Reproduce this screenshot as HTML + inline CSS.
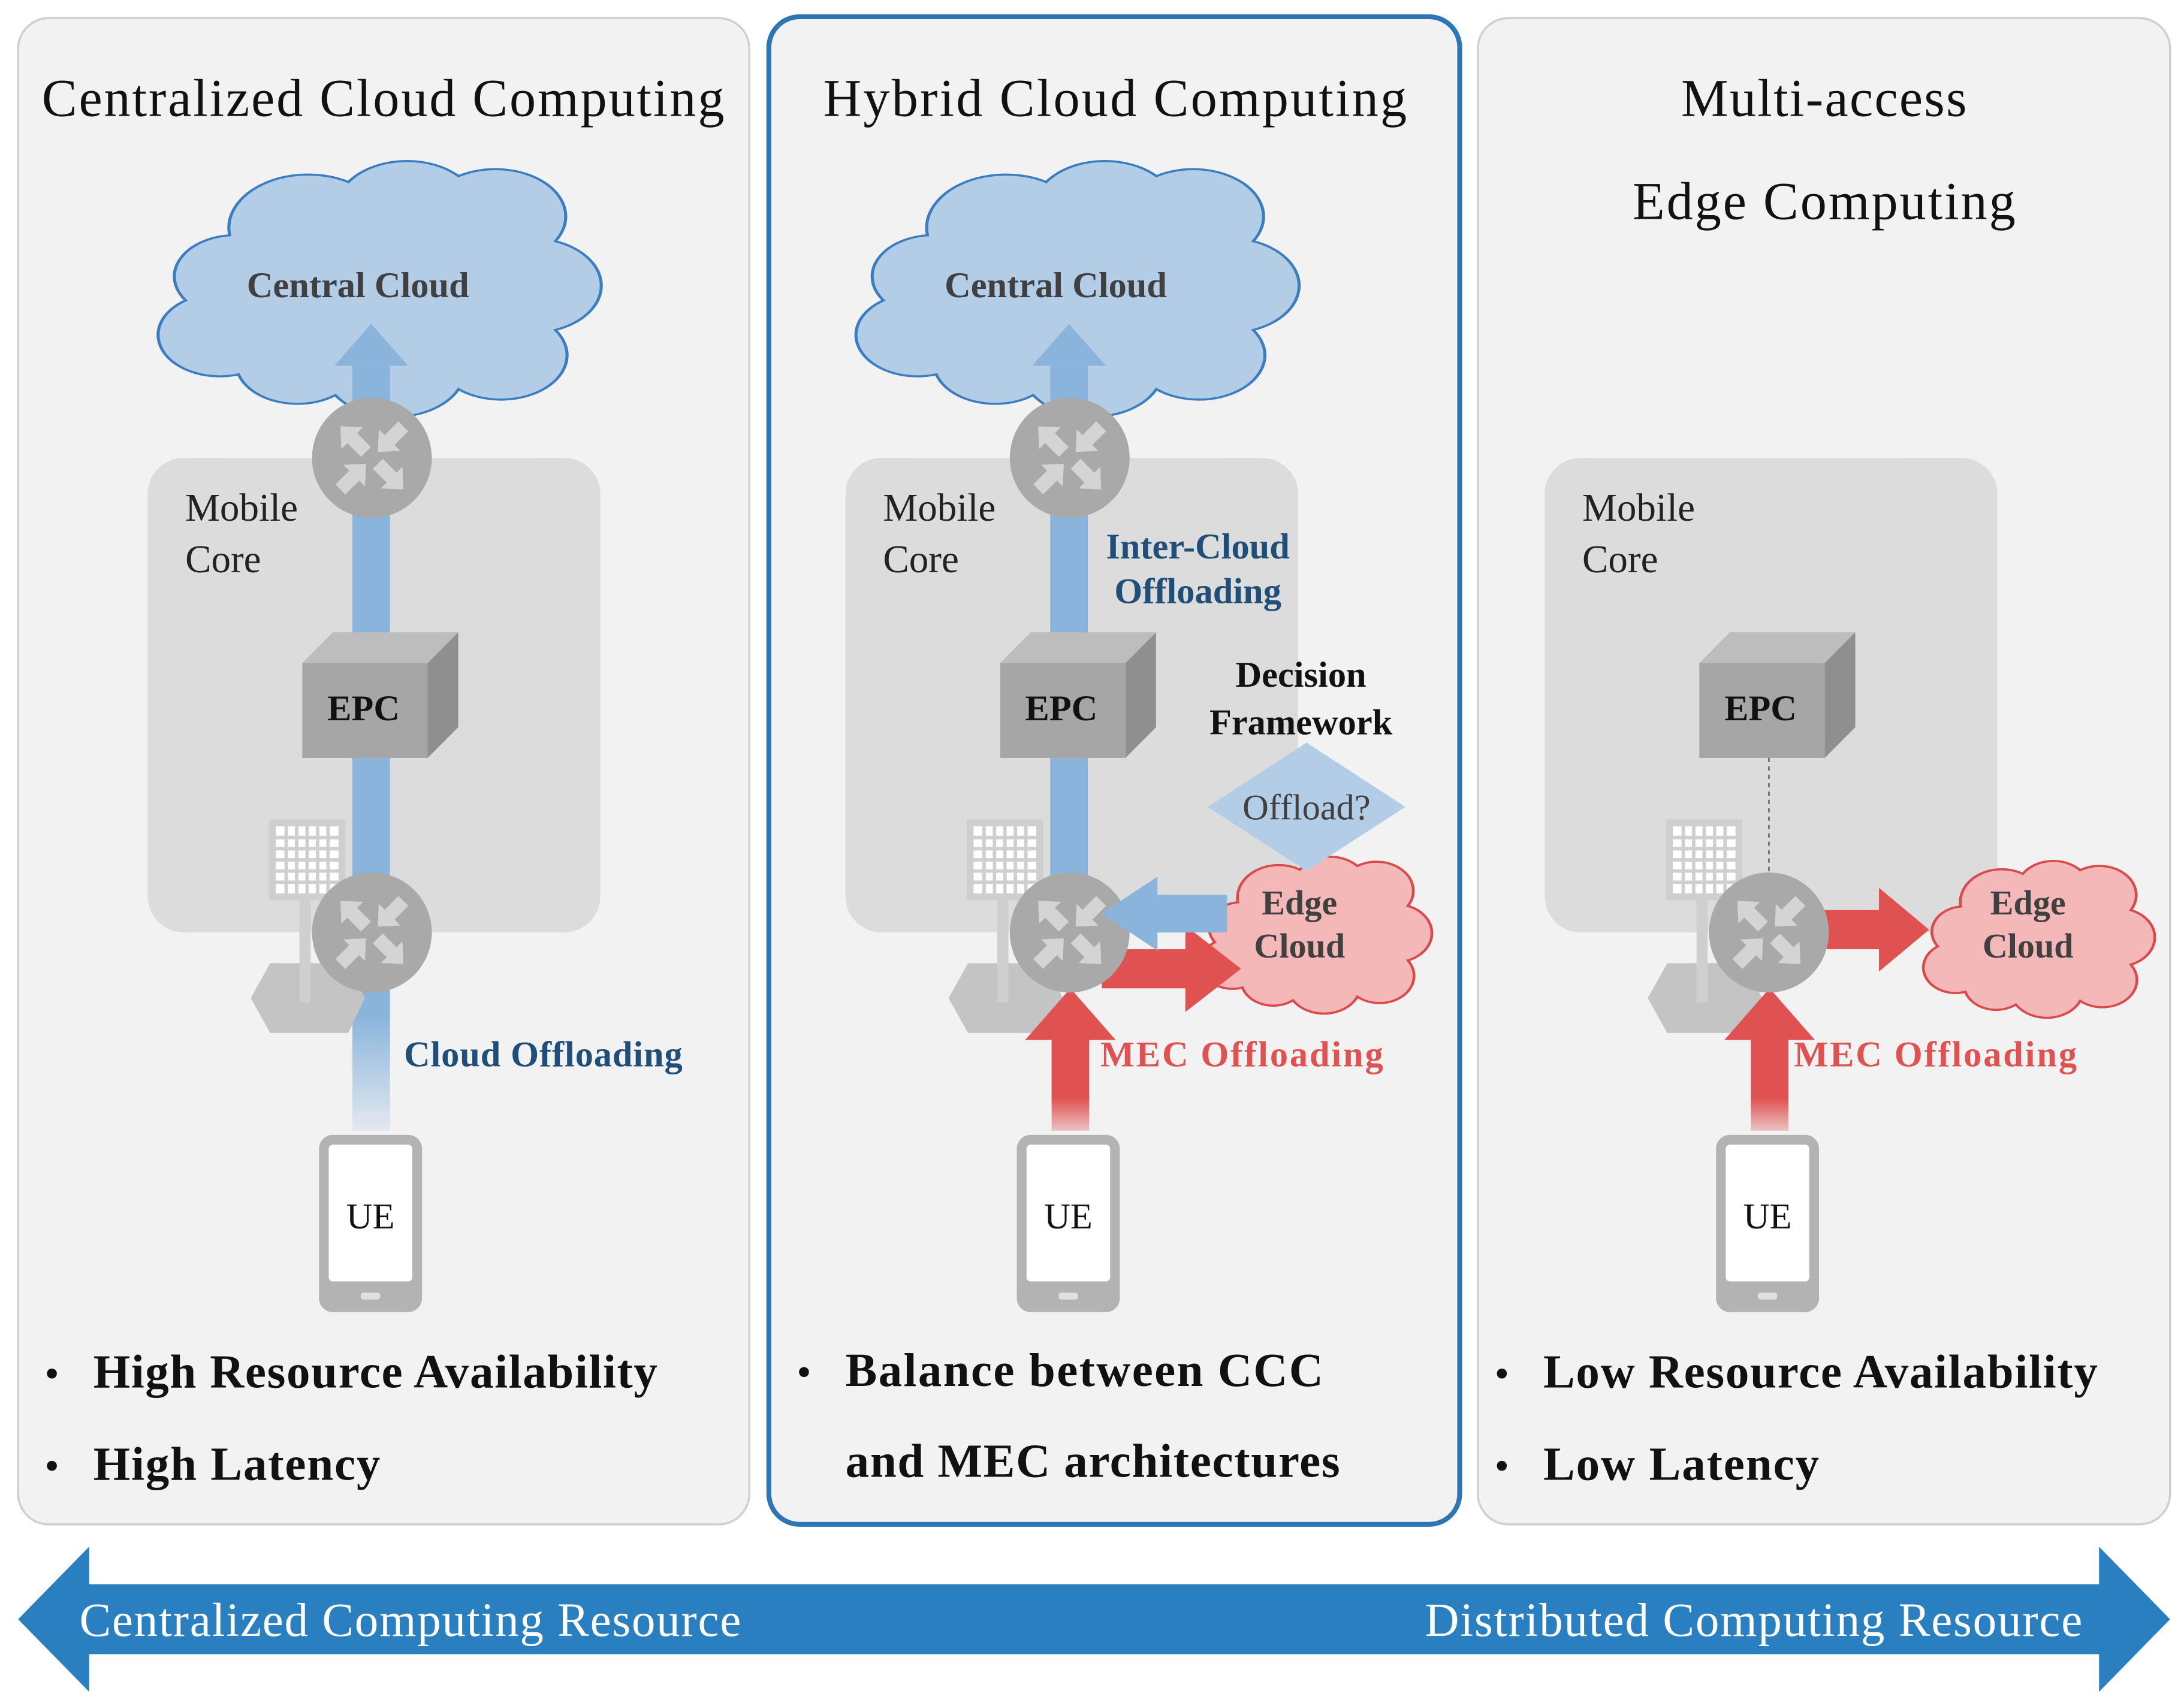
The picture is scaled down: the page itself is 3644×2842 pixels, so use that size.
<!DOCTYPE html>
<html><head><meta charset="utf-8"><style>html,body{margin:0;padding:0;background:#fff}svg{display:block}</style></head>
<body>
<svg width="3644" height="2842" viewBox="0 0 1568 1220" preserveAspectRatio="none" xmlns="http://www.w3.org/2000/svg" font-family="'Liberation Serif',serif">
<defs>
<linearGradient id="fadeB" x1="0" y1="0" x2="0" y2="1"><stop offset="0" stop-color="#8ab4dc"/><stop offset="0.85" stop-color="#8ab4dc"/><stop offset="1" stop-color="#8ab4dc" stop-opacity="0.15"/></linearGradient>
<linearGradient id="fadeR" x1="0" y1="1" x2="0" y2="0"><stop offset="0" stop-color="#e05252" stop-opacity="0.3"/><stop offset="0.35" stop-color="#e05252"/><stop offset="1" stop-color="#e05252"/></linearGradient>
<path id="cloudp" d="M 20 85 A 14 14 0 0 1 8 60 A 14 14 0 0 1 18 38 A 18 18 0 0 1 45 20 A 16 16 0 0 1 70 18 A 16 16 0 0 1 92 40 A 16 16 0 0 1 92 70 A 15 15 0 0 1 70 90 A 16 16 0 0 1 42 92 A 14 14 0 0 1 20 85 Z"/>
<g id="router">
 <circle r="43" fill="#a9a9a9"/>
 <g fill="#d4d4d4">
  <polygon transform="rotate(225)" points="6,-5 20,-5 20,-11 32,0 20,11 20,5 6,5"/>
  <polygon transform="rotate(45)" points="6,-5 20,-5 20,-11 32,0 20,11 20,5 6,5"/>
  <polygon transform="rotate(-45)" points="32,-5 18,-5 18,-11 6,0 18,11 18,5 32,5"/>
  <polygon transform="rotate(135)" points="32,-5 18,-5 18,-11 6,0 18,11 18,5 32,5"/>
 </g>
</g>
<g id="epc">
 <polygon points="217,475 239,453 329,453 307,475" fill="#bdbdbd"/>
 <polygon points="307,475 329,453 329,521 307,543" fill="#8f8f8f"/>
 <rect x="217" y="475" width="90" height="68" fill="#a6a6a6"/>
 <text x="261" y="516" font-size="26" font-weight="bold" text-anchor="middle" fill="#111">EPC</text>
</g>
<g id="bs">
 <polygon points="194,690 250,690 262,715 250,740 194,740 180,715" fill="#c4c4c4"/>
 <rect x="215" y="640" width="8" height="78" fill="#cfcfcf"/>
 <rect x="193" y="587" width="55" height="58" fill="#cfcfcf"/>
 <rect x="198" y="592" width="45" height="48" fill="#fff"/>
 <g stroke="#cfcfcf" stroke-width="2.5">
  <line x1="205.5" y1="590" x2="205.5" y2="642"/><line x1="213" y1="590" x2="213" y2="642"/><line x1="220.5" y1="590" x2="220.5" y2="642"/><line x1="228" y1="590" x2="228" y2="642"/><line x1="235.5" y1="590" x2="235.5" y2="642"/>
  <line x1="196" y1="600" x2="245" y2="600" /><line x1="196" y1="608" x2="245" y2="608"/><line x1="196" y1="616" x2="245" y2="616"/><line x1="196" y1="624" x2="245" y2="624"/><line x1="196" y1="632" x2="245" y2="632"/>
 </g>
</g>
<g id="ue">
 <rect x="229" y="813" width="74" height="127" rx="10" fill="#b3b3b3"/>
 <rect x="236" y="820" width="60" height="98" rx="3" fill="#fff"/>
 <rect x="259" y="926" width="14" height="5" rx="2" fill="#e0e0e0"/>
 <text x="266" y="880" font-size="26" text-anchor="middle" fill="#111">UE</text>
</g>
<g id="core">
 <rect x="106" y="328" width="325" height="340" rx="26" fill="#dcdcdc"/>
 <text x="133" y="373" font-size="28" fill="#222">Mobile</text>
 <text x="133" y="410" font-size="28" fill="#222">Core</text>
</g>
<g id="ccloud">
 <use href="#cloudp" transform="translate(108,88) scale(3.16,2.12)" fill="#b4cde6" stroke="#3a7dc0" stroke-width="0.7"/>
 <text x="257" y="213" font-size="26" font-weight="bold" text-anchor="middle" fill="#404040">Central Cloud</text>
</g>
<g id="ecloud">
 <use href="#cloudp" transform="scale(1.65,1.3)" fill="#f5b8b8" stroke="#d94a4a" stroke-width="1.2"/>
</g>
</defs>

<rect x="13" y="13" width="525" height="1079" rx="22" fill="#f2f2f2" stroke="#cfcfcf" stroke-width="1.5"/>
<rect x="552" y="12" width="496" height="1080" rx="22" fill="#f2f2f2" stroke="#2e75b6" stroke-width="3.5"/>
<rect x="1061" y="13" width="497" height="1079" rx="22" fill="#f2f2f2" stroke="#cfcfcf" stroke-width="1.5"/>

<text x="30" y="83" font-size="38" fill="#111" textLength="490">Centralized Cloud Computing</text>
<text x="591" y="83" font-size="38" fill="#111" textLength="419">Hybrid Cloud Computing</text>
<text x="1207" y="83" font-size="38" fill="#111" textLength="205">Multi-access</text>
<text x="1172" y="157" font-size="38" fill="#111" textLength="275">Edge Computing</text>

<use href="#core"/>
<use href="#ccloud"/>
<rect x="253" y="262" width="27" height="548" fill="url(#fadeB)"/>
<polygon points="240,262 266.5,232 293,262" fill="#8ab4dc"/>
<use href="#epc"/>
<use href="#bs"/>
<use href="#router" x="267" y="328"/>
<use href="#router" x="267" y="668"/>
<text x="290" y="764" font-size="26" font-weight="bold" fill="#1f4e79" textLength="200">Cloud Offloading</text>
<use href="#ue"/>
<text x="32" y="994" font-size="30" fill="#111">•</text>
<text x="67" y="994" font-size="34" font-weight="bold" fill="#111" textLength="405">High Resource Availability</text>
<text x="32" y="1060" font-size="30" fill="#111">•</text>
<text x="67" y="1060" font-size="34" font-weight="bold" fill="#111" textLength="206">High Latency</text>

<g transform="translate(501,0)">
 <use href="#core"/>
 <use href="#ccloud"/>
 <rect x="253" y="262" width="27" height="406" fill="#8ab4dc"/>
 <polygon points="240,262 266.5,232 293,262" fill="#8ab4dc"/>
 <use href="#epc"/>
 <use href="#bs"/>
 <use href="#router" x="267" y="328"/>
 <g transform="translate(358,597)"><use href="#ecloud"/></g>
 <text x="432" y="655" font-size="25" font-weight="bold" text-anchor="middle" fill="#404040">Edge</text>
 <text x="432" y="686" font-size="25" font-weight="bold" text-anchor="middle" fill="#404040">Cloud</text>
 <polygon points="437,532 508,578 437,624 366,578" fill="#b4cde6"/>
 <text x="437" y="587" font-size="26" text-anchor="middle" fill="#404040">Offload?</text>
 <text x="433" y="492" font-size="26" font-weight="bold" text-anchor="middle" fill="#111">Decision</text>
 <text x="433" y="526" font-size="26" font-weight="bold" text-anchor="middle" fill="#111">Framework</text>
 <text x="359" y="400" font-size="26" font-weight="bold" text-anchor="middle" fill="#1f4e79">Inter-Cloud</text>
 <text x="359" y="432" font-size="26" font-weight="bold" text-anchor="middle" fill="#1f4e79">Offloading</text>
 <rect x="254" y="744" width="27" height="66" fill="url(#fadeR)"/>
 <polygon points="235,745 267.5,708 300,745" fill="#e05252"/>
 <rect x="290" y="680" width="62" height="28" fill="#e05252"/>
 <polygon points="350,663 390,694 350,725" fill="#e05252"/>
 <use href="#router" x="267" y="668"/>
 <rect x="328" y="641" width="52" height="27" fill="#8ab4dc"/>
 <polygon points="330,628 290,654.5 330,681" fill="#8ab4dc"/>
 <text x="289" y="764" font-size="26" font-weight="bold" fill="#e05252" textLength="203">MEC Offloading</text>
 <use href="#ue"/>
</g>
<text x="572" y="993" font-size="30" fill="#111">•</text>
<text x="607" y="993" font-size="34" font-weight="bold" fill="#111" textLength="343">Balance between CCC</text>
<text x="607" y="1058" font-size="34" font-weight="bold" fill="#111" textLength="355">and MEC architectures</text>

<g transform="translate(1003,0)">
 <use href="#core"/>
 <use href="#epc"/>
 <line x1="267" y1="543" x2="267" y2="628" stroke="#555" stroke-width="1" stroke-dasharray="3,3"/>
 <use href="#bs"/>
 <g transform="translate(375,600)"><use href="#ecloud"/></g>
 <text x="453" y="655" font-size="25" font-weight="bold" text-anchor="middle" fill="#404040">Edge</text>
 <text x="453" y="686" font-size="25" font-weight="bold" text-anchor="middle" fill="#404040">Cloud</text>
 <rect x="254" y="744" width="27" height="66" fill="url(#fadeR)"/>
 <polygon points="235,745 267.5,708 300,745" fill="#e05252"/>
 <rect x="290" y="652" width="58" height="28" fill="#e05252"/>
 <polygon points="346,636 382,666 346,696" fill="#e05252"/>
 <use href="#router" x="267" y="668"/>
 <text x="285" y="764" font-size="26" font-weight="bold" fill="#e05252" textLength="203">MEC Offloading</text>
 <use href="#ue"/>
</g>
<text x="1073" y="994" font-size="30" fill="#111">•</text>
<text x="1108" y="994" font-size="34" font-weight="bold" fill="#111" textLength="398">Low Resource Availability</text>
<text x="1073" y="1060" font-size="30" fill="#111">•</text>
<text x="1108" y="1060" font-size="34" font-weight="bold" fill="#111" textLength="198">Low Latency</text>

<polygon points="13,1160 64,1108 64,1135 1507,1135 1507,1108 1558,1160 1507,1212 1507,1185 64,1185 64,1212" fill="#2a7fc0"/>
<text x="57" y="1172" font-size="34" fill="#fff" textLength="475">Centralized Computing Resource</text>
<text x="1023" y="1172" font-size="34" fill="#fff" textLength="472">Distributed Computing Resource</text>
</svg>
</body></html>
